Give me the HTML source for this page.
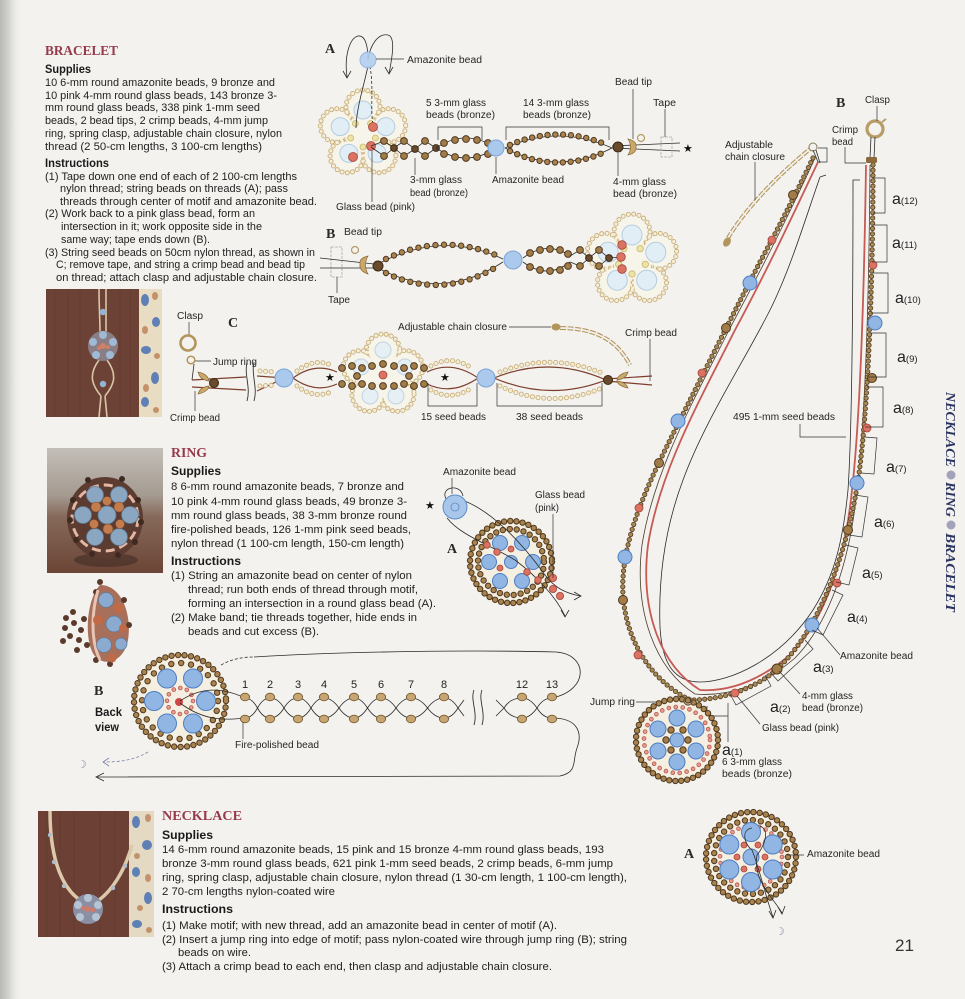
<!DOCTYPE html>
<html><head><meta charset="utf-8"><title>Necklace Ring Bracelet</title>
<style>
html,body{margin:0;padding:0;background:#f3f2ee;width:965px;height:999px;overflow:hidden}
svg{display:block}
.t{font-family:"Liberation Sans",Arial,sans-serif;fill:#1f1f1f}
.bd{font-size:10.7px}
.rb{font-size:11px}
.lb{font-family:"Liberation Sans",Arial,sans-serif;font-size:10px;fill:#262626}
.hd{font-family:"Liberation Serif",serif;font-weight:bold;fill:#963a4b;font-size:14px}
.sb{font-family:"Liberation Sans",Arial,sans-serif;font-weight:bold;font-size:12px;fill:#1a1a1a}
.sr{font-family:"Liberation Serif",serif;font-weight:bold;font-size:14px;fill:#2a2a2a}
.st{font-family:"DejaVu Sans",sans-serif;font-size:11px;fill:#111}
.ln{fill:none;stroke:#333;stroke-width:0.7}
.th{fill:none;stroke:#2b2b2b;stroke-width:0.8}
.bo{fill:none;stroke:#4f3820;stroke-width:6.4;stroke-linecap:round}
.bi{fill:none;stroke:#a9844e;stroke-width:4.4;stroke-linecap:round}
.so{fill:none;stroke:#5a4126;stroke-width:5.2;stroke-linecap:round}
.si{fill:none;stroke:#a88a55;stroke-width:3.4;stroke-linecap:round}
.co{fill:none;stroke:#c9b07a;stroke-width:5;stroke-linecap:round}
.ci{fill:none;stroke:#f6eed8;stroke-width:3.2;stroke-linecap:round}
.po{fill:none;stroke:#b3584f;stroke-width:4.6;stroke-linecap:round}
.pi{fill:none;stroke:#ea9c90;stroke-width:3;stroke-linecap:round}
.bl{fill:#92b6e4;stroke:#4d7dc0;stroke-width:1}
.pb{fill:#e2eef6;stroke:#b4cde2;stroke-width:1}
.pk{fill:#dc7262;stroke:#9f463b;stroke-width:0.8}
.bz{fill:#a27c47;stroke:#4f3820;stroke-width:1}
.dk{fill:#6a4a2c;stroke:#3a2814;stroke-width:1}
.fp{fill:#c7a674;stroke:#7a5a30;stroke-width:0.9}
.yl{fill:#ece3a4;stroke:#c6b76c;stroke-width:0.8}
.ch1{fill:none;stroke:#b3955c;stroke-width:4;stroke-dasharray:6 1.5}
.ch2{fill:none;stroke:#f3f2ee;stroke-width:1.8;stroke-dasharray:6 1.5}
.rw{fill:none;stroke:#7d3f2c;stroke-width:1.2}
</style></head><body>
<svg width="965" height="999" viewBox="0 0 965 999" xmlns="http://www.w3.org/2000/svg">
<defs>
<linearGradient id="gut" x1="0" x2="1" y1="0" y2="0"><stop offset="0" stop-color="#b8b8b5"/><stop offset="0.45" stop-color="#d6d6d2"/><stop offset="1" stop-color="#f3f2ee" stop-opacity="0"/></linearGradient>
<linearGradient id="rph" x1="0" y1="0" x2="0" y2="1"><stop offset="0" stop-color="#c3bfb8"/><stop offset="0.38" stop-color="#a49a90"/><stop offset="0.55" stop-color="#86695a"/><stop offset="1" stop-color="#6b4536"/></linearGradient>
</defs>
<rect width="965" height="999" fill="#f3f2ee"/>
<rect x="0" y="0" width="22" height="999" fill="url(#gut)"/>

<!-- ================= BRACELET TEXT ================= -->
<text class="hd" x="45" y="55" textLength="73" lengthAdjust="spacingAndGlyphs">BRACELET</text>
<text class="sb" x="45" y="73" textLength="46" lengthAdjust="spacingAndGlyphs">Supplies</text>
<g class="t bd">
<text x="45" y="86" textLength="230" lengthAdjust="spacingAndGlyphs">10 6-mm round amazonite beads, 9 bronze and</text>
<text x="45" y="99" textLength="232" lengthAdjust="spacingAndGlyphs">10 pink 4-mm round glass beads, 143 bronze 3-</text>
<text x="45" y="111" textLength="215" lengthAdjust="spacingAndGlyphs">mm round glass beads, 338 pink 1-mm seed</text>
<text x="45" y="124" textLength="223" lengthAdjust="spacingAndGlyphs">beads, 2 bead tips, 2 crimp beads, 4-mm jump</text>
<text x="45" y="137" textLength="237" lengthAdjust="spacingAndGlyphs">ring, spring clasp, adjustable chain closure, nylon</text>
<text x="45" y="150" textLength="217" lengthAdjust="spacingAndGlyphs">thread (2 50-cm lengths, 3 100-cm lengths)</text>
<text x="45" y="180" textLength="252" lengthAdjust="spacingAndGlyphs">(1) Tape down one end of each of 2 100-cm lengths</text>
<text x="60" y="192" textLength="228" lengthAdjust="spacingAndGlyphs">nylon thread; string beads on threads (A); pass</text>
<text x="60" y="205" textLength="257" lengthAdjust="spacingAndGlyphs">threads through center of motif and amazonite bead.</text>
<text x="45" y="217" textLength="210" lengthAdjust="spacingAndGlyphs">(2) Work back to a pink glass bead, form an</text>
<text x="61" y="230" textLength="201" lengthAdjust="spacingAndGlyphs">intersection in it; work opposite side in the</text>
<text x="61" y="243" textLength="149" lengthAdjust="spacingAndGlyphs">same way; tape ends down (B).</text>
<text x="45" y="256" textLength="270" lengthAdjust="spacingAndGlyphs">(3) String seed beads on 50cm nylon thread, as shown in</text>
<text x="56" y="268" textLength="249" lengthAdjust="spacingAndGlyphs">C; remove tape, and string a crimp bead and bead tip</text>
<text x="56" y="281" textLength="261" lengthAdjust="spacingAndGlyphs">on thread; attach clasp and adjustable chain closure.</text>
</g>
<text class="sb" x="45" y="167" textLength="64" lengthAdjust="spacingAndGlyphs">Instructions</text>

<!-- ================= RING TEXT ================= -->
<text class="hd" x="171" y="457" textLength="36" lengthAdjust="spacingAndGlyphs">RING</text>
<text class="sb" x="171" y="475" textLength="50" lengthAdjust="spacingAndGlyphs">Supplies</text>
<g class="t rb">
<text x="171" y="490" textLength="233" lengthAdjust="spacingAndGlyphs">8 6-mm round amazonite beads, 7 bronze and</text>
<text x="171" y="505" textLength="236" lengthAdjust="spacingAndGlyphs">10 pink 4-mm round glass beads, 49 bronze 3-</text>
<text x="171" y="519" textLength="236" lengthAdjust="spacingAndGlyphs">mm round glass beads, 38 3-mm bronze round</text>
<text x="171" y="533" textLength="240" lengthAdjust="spacingAndGlyphs">fire-polished beads, 126 1-mm pink seed beads,</text>
<text x="171" y="547" textLength="233" lengthAdjust="spacingAndGlyphs">nylon thread (1 100-cm length, 150-cm length)</text>
<text x="171" y="579" textLength="241" lengthAdjust="spacingAndGlyphs">(1) String an amazonite bead on center of nylon</text>
<text x="188" y="593" textLength="230" lengthAdjust="spacingAndGlyphs">thread; run both ends of thread through motif,</text>
<text x="188" y="607" textLength="248" lengthAdjust="spacingAndGlyphs">forming an intersection in a round glass bead (A).</text>
<text x="171" y="621" textLength="246" lengthAdjust="spacingAndGlyphs">(2) Make band; tie threads together, hide ends in</text>
<text x="188" y="635" textLength="131" lengthAdjust="spacingAndGlyphs">beads and cut excess (B).</text>
</g>
<text class="sb" x="171" y="565" textLength="70" lengthAdjust="spacingAndGlyphs">Instructions</text>

<!-- ================= NECKLACE TEXT ================= -->
<text class="hd" x="162" y="820" textLength="80" lengthAdjust="spacingAndGlyphs">NECKLACE</text>
<text class="sb" x="162" y="839" textLength="51" lengthAdjust="spacingAndGlyphs">Supplies</text>
<g class="t rb">
<text x="162" y="853" textLength="442" lengthAdjust="spacingAndGlyphs">14 6-mm round amazonite beads, 15 pink and 15 bronze 4-mm round glass beads, 193</text>
<text x="162" y="867" textLength="451" lengthAdjust="spacingAndGlyphs">bronze 3-mm round glass beads, 621 pink 1-mm seed beads, 2 crimp beads, 6-mm jump</text>
<text x="162" y="881" textLength="465" lengthAdjust="spacingAndGlyphs">ring, spring clasp, adjustable chain closure, nylon thread (1 30-cm length, 1 100-cm length),</text>
<text x="162" y="895" textLength="173" lengthAdjust="spacingAndGlyphs">2 70-cm lengths nylon-coated wire</text>
<text x="162" y="929" textLength="395" lengthAdjust="spacingAndGlyphs">(1) Make motif; with new thread, add an amazonite bead in center of motif (A).</text>
<text x="162" y="943" textLength="465" lengthAdjust="spacingAndGlyphs">(2) Insert a jump ring into edge of motif; pass nylon-coated wire through jump ring (B); string</text>
<text x="178" y="956" textLength="73" lengthAdjust="spacingAndGlyphs">beads on wire.</text>
<text x="162" y="970" textLength="390" lengthAdjust="spacingAndGlyphs">(3) Attach a crimp bead to each end, then clasp and adjustable chain closure.</text>
</g>
<text class="sb" x="162" y="913" textLength="71" lengthAdjust="spacingAndGlyphs">Instructions</text>

<!-- ================= PHOTOS ================= -->
<!-- bracelet photo -->
<rect x="46" y="289" width="93" height="128" fill="#6d4236"/>
<g stroke="#5e372d" stroke-width="1" opacity="0.5"><path d="M55,289V417M68,289V417M80,289V417M120,289V417M130,289V417"/></g>
<rect x="139" y="289" width="23" height="128" fill="#e8dcc3"/>
<g fill="#5f80b5"><ellipse cx="145" cy="300" rx="4" ry="6"/><ellipse cx="156" cy="322" rx="4" ry="5"/><ellipse cx="146" cy="350" rx="5" ry="4"/><ellipse cx="155" cy="378" rx="4" ry="6"/><ellipse cx="145" cy="402" rx="4" ry="5"/></g>
<g fill="#c3926a"><ellipse cx="155" cy="296" rx="3" ry="4"/><ellipse cx="145" cy="330" rx="3" ry="4"/><ellipse cx="157" cy="356" rx="3" ry="3"/><ellipse cx="146" cy="388" rx="3" ry="4"/><ellipse cx="156" cy="410" rx="3" ry="3"/></g>
<path d="M99,289 C99,305 100,320 100,332 M106,289 C106,305 106,320 106,332 M99,360 C88,375 92,385 101,396 M107,360 C118,375 114,385 105,396 M101,396 L99,417 M105,396 L107,417" fill="none" stroke="#d8c6a6" stroke-width="1.6"/>
<circle cx="103" cy="312" r="3.2" fill="#93b4d4"/>
<circle cx="103" cy="384" r="3.2" fill="#93b4d4"/>
<circle cx="103" cy="346" r="15" fill="#8b7d84"/>
<g fill="#9fbad6"><circle cx="103" cy="335" r="4"/><circle cx="113" cy="342" r="4"/><circle cx="110" cy="355" r="4"/><circle cx="96" cy="355" r="4"/><circle cx="93" cy="342" r="4"/></g>
<g fill="#d08068"><circle cx="103" cy="346" r="3"/><circle cx="108" cy="347" r="2"/><circle cx="99" cy="348" r="2"/></g>

<!-- ring photo -->
<rect x="47" y="448" width="116" height="125" fill="url(#rph)"/>
<ellipse cx="106" cy="560" rx="32" ry="7" fill="#3e2a22" opacity=".55"/>
<ellipse cx="105" cy="518" rx="38" ry="41" fill="#5c3b30"/>
<circle cx="105" cy="518" r="33" fill="none" stroke="#e4b6a4" stroke-width="3" stroke-dasharray="9 5"/>
<g fill="#8aa6c0" stroke="#5d7a96" stroke-width="0.8"><circle cx="107" cy="515" r="9"/><circle cx="130" cy="515" r="8.5"/><circle cx="119" cy="495" r="8.5"/><circle cx="95" cy="495" r="8.5"/><circle cx="83" cy="515" r="8.5"/><circle cx="95" cy="537" r="8.5"/><circle cx="119" cy="537" r="8.5"/></g>
<g fill="#c27c4e" stroke="#8a4e2e" stroke-width="0.6"><circle cx="119" cy="507" r="5"/><circle cx="96" cy="507" r="5"/><circle cx="108" cy="529" r="5"/><circle cx="120" cy="524" r="4.5"/><circle cx="94" cy="524" r="4.5"/><circle cx="107" cy="501" r="4.5"/></g>
<g fill="#3e2a20"><circle cx="73" cy="500" r="3"/><circle cx="70" cy="520" r="3"/><circle cx="76" cy="540" r="3"/><circle cx="138" cy="500" r="3"/><circle cx="141" cy="522" r="3"/><circle cx="135" cy="542" r="3"/><circle cx="88" cy="480" r="3"/><circle cx="122" cy="479" r="3"/><circle cx="92" cy="554" r="3"/><circle cx="118" cy="555" r="3"/></g>

<!-- small ring -->
<g>
<path d="M100,585 C122,585 132,615 128,640 C124,662 104,668 94,655 C84,640 86,600 100,585Z" fill="#a8705a"/>
<g fill="#5a3a2a"><circle cx="66" cy="618" r="3"/><circle cx="73" cy="612" r="3"/><circle cx="65" cy="628" r="3"/><circle cx="74" cy="623" r="3"/><circle cx="70" cy="636" r="3"/><circle cx="79" cy="640" r="3"/><circle cx="63" cy="641" r="3"/><circle cx="81" cy="630" r="3"/><circle cx="84" cy="619" r="3"/><circle cx="77" cy="650" r="3"/><circle cx="87" cy="645" r="3"/><circle cx="100" cy="582" r="3"/><circle cx="96" cy="592" r="3"/><circle cx="124" cy="600" r="3"/><circle cx="129" cy="625" r="3"/><circle cx="96" cy="660" r="3"/><circle cx="110" cy="664" r="3"/></g>
<path d="M98,590 C92,610 90,640 100,660" fill="none" stroke="#e8c4b4" stroke-width="3"/>
<g fill="#8aaad0" stroke="#5d7a96" stroke-width="0.7"><circle cx="106" cy="600" r="7.5"/><circle cx="114" cy="624" r="8"/><circle cx="104" cy="645" r="7.5"/><circle cx="121" cy="644" r="6"/></g>
<g fill="#c06a48"><circle cx="119" cy="608" r="5"/><circle cx="98" cy="620" r="5"/><circle cx="112" cy="658" r="4.5"/><circle cx="123" cy="628" r="4"/></g>
</g>

<!-- necklace photo -->
<rect x="38" y="811" width="91" height="126" fill="#6c4034"/>
<g stroke="#5e362b" stroke-width="1" opacity="0.5"><path d="M47,811V937M60,811V937M74,811V937M100,811V937M115,811V937"/></g>
<rect x="129" y="811" width="25" height="126" fill="#e4d9c3"/>
<g fill="#5f80b5"><ellipse cx="136" cy="822" rx="4" ry="6"/><ellipse cx="147" cy="845" rx="5" ry="5"/><ellipse cx="136" cy="872" rx="4" ry="5"/><ellipse cx="148" cy="898" rx="4" ry="6"/><ellipse cx="137" cy="924" rx="5" ry="4"/></g>
<g fill="#c3926a"><ellipse cx="148" cy="818" rx="3" ry="4"/><ellipse cx="137" cy="856" rx="3" ry="3"/><ellipse cx="148" cy="878" rx="3" ry="4"/><ellipse cx="140" cy="908" rx="3" ry="3"/><ellipse cx="149" cy="930" rx="3" ry="3"/></g>
<path d="M50,811 C50,850 58,885 80,900 M132,845 C125,870 112,892 96,902" fill="none" stroke="#dcc8ab" stroke-width="3.5"/>
<g fill="#aebdcc"><circle cx="50" cy="835" r="2.2"/><circle cx="54" cy="862" r="2.2"/><circle cx="64" cy="886" r="2.2"/><circle cx="125" cy="866" r="2.2"/><circle cx="113" cy="888" r="2.2"/></g>
<circle cx="88" cy="909" r="15" fill="#8b8fa3"/>
<g fill="#b5c4d4"><circle cx="88" cy="898" r="4"/><circle cx="98" cy="905" r="4"/><circle cx="96" cy="917" r="4"/><circle cx="80" cy="917" r="4"/><circle cx="78" cy="905" r="4"/></g>
<g fill="#d07a6a"><circle cx="88" cy="909" r="3"/><circle cx="83" cy="908" r="2.2"/><circle cx="93" cy="910" r="2.2"/></g>

<!-- ================= BRACELET DIAGRAM A ================= -->
<text class="sr" x="325" y="53">A</text>
<path class="th" d="M347,77 C344,55 350,38 358,36 C366,35 368,48 368,60 M368,60 C370,45 378,33 388,35 C396,37 392,58 389,74"/>
<path class="th" d="M343,71 L347,78 L351,71 M385,67 L389,74 L393,67"/>
<!-- motif A -->
<g class="co" stroke-dasharray="0 5.3"><circle cx="363" cy="107" r="17"/><circle cx="388.7" cy="125.7" r="17"/><circle cx="378.9" cy="155.8" r="17"/><circle cx="347.1" cy="155.8" r="17"/><circle cx="337.3" cy="125.7" r="17"/></g>
<g class="ci" stroke-dasharray="0 5.3"><circle cx="363" cy="107" r="17"/><circle cx="388.7" cy="125.7" r="17"/><circle cx="378.9" cy="155.8" r="17"/><circle cx="347.1" cy="155.8" r="17"/><circle cx="337.3" cy="125.7" r="17"/></g>
<g fill="#f7f4ea"><circle cx="363" cy="107" r="14"/><circle cx="388.7" cy="125.7" r="14"/><circle cx="378.9" cy="155.8" r="14"/><circle cx="347.1" cy="155.8" r="14"/><circle cx="337.3" cy="125.7" r="14"/><circle cx="363" cy="134" r="18"/></g>
<g class="pb"><circle cx="363" cy="110" r="9"/><circle cx="385.8" cy="126.6" r="9"/><circle cx="377.1" cy="153.4" r="9"/><circle cx="348.9" cy="153.4" r="9"/><circle cx="340.2" cy="126.6" r="9"/></g>
<g class="yl"><circle cx="370.6" cy="123.5" r="3"/><circle cx="375.4" cy="138" r="3"/><circle cx="363" cy="147" r="3"/><circle cx="350.6" cy="138" r="3"/><circle cx="355.4" cy="123.5" r="3"/></g>
<path class="th" d="M368,66 C364,85 356,110 356,128"/>
<path class="th" stroke-dasharray="3 2" d="M370,66 C374,90 370,110 373,124"/>
<g class="pk"><circle cx="373" cy="127" r="4.5"/><circle cx="371" cy="146" r="4.5"/><circle cx="353" cy="157" r="4.5"/></g>
<circle cx="368" cy="60" r="8" fill="#b2cff0" stroke="#8fb3e0" stroke-width="1" opacity="0.9"/>
<!-- chain A -->
<path class="th" d="M371,146 L384,141 L394,148 L404,141 L415,149 L425,141 L436,148 M371,147 L384,156 L394,148 L404,156 L415,149 L425,156 L436,148"/>
<g class="bz"><circle cx="384" cy="141" r="3.4"/><circle cx="404" cy="141" r="3.4"/><circle cx="425" cy="141" r="3.4"/><circle cx="384" cy="156" r="3.4"/><circle cx="404" cy="156" r="3.4"/><circle cx="425" cy="156" r="3.4"/></g>
<g class="dk"><circle cx="394" cy="148" r="3.4"/><circle cx="415" cy="149" r="3.4"/><circle cx="436" cy="148" r="3.4"/></g>
<path class="th" d="M436,148 Q466,128 496,148 M436,148 Q466,168 496,148"/>
<g class="bz"><circle cx="444" cy="143" r="3.4"/><circle cx="455" cy="140" r="3.4"/><circle cx="466" cy="139" r="3.4"/><circle cx="477" cy="140" r="3.4"/><circle cx="488" cy="143" r="3.4"/><circle cx="444" cy="154" r="3.4"/><circle cx="455" cy="157" r="3.4"/><circle cx="466" cy="158" r="3.4"/><circle cx="477" cy="157" r="3.4"/><circle cx="488" cy="154" r="3.4"/></g>
<path class="th" d="M505,148 Q558,124 612,148 M505,148 Q558,176 612,148"/>
<path class="bo" stroke-dasharray="0 7.8" d="M510,145 Q558,124 607,145"/>
<path class="bi" stroke-dasharray="0 7.8" d="M510,145 Q558,124 607,145"/>
<path class="bo" stroke-dasharray="0 7.8" d="M510,151 Q558,174 607,151"/>
<path class="bi" stroke-dasharray="0 7.8" d="M510,151 Q558,174 607,151"/>
<circle cx="496" cy="148" r="8" fill="#aac9ec" stroke="#7aa4d6" stroke-width="1"/>
<path class="th" d="M612,146 L680,143 M612,148 L680,151"/>
<circle class="dk" cx="618" cy="147" r="5"/>
<path d="M628,139 Q637,141 636,147 Q637,153 628,155 Q633,147 628,139Z" fill="#c9a86a" stroke="#8a6a3a" stroke-width="0.7"/>
<circle cx="641" cy="138" r="3.5" fill="none" stroke="#b59a66" stroke-width="1.2"/>
<rect x="661" y="137" width="11" height="20" fill="none" stroke="#aaa" stroke-width="0.8" stroke-dasharray="3 1"/>
<text class="st" x="683" y="152">★</text>
<!-- labels A -->
<path class="ln" d="M376,59 H404 M438,140 V127 H482 V140 M506,140 V127 H609 V140 M633,89 V139 M665,109 V137 M415,158 V175 M496,157 V174 M618,153 V176 M372,151 V202"/>
<text class="lb" x="407" y="63" textLength="75" lengthAdjust="spacingAndGlyphs">Amazonite bead</text>
<text class="lb" x="426" y="106" textLength="60" lengthAdjust="spacingAndGlyphs">5 3-mm glass</text>
<text class="lb" x="426" y="118" textLength="69" lengthAdjust="spacingAndGlyphs">beads (bronze)</text>
<text class="lb" x="523" y="106" textLength="66" lengthAdjust="spacingAndGlyphs">14 3-mm glass</text>
<text class="lb" x="523" y="118" textLength="68" lengthAdjust="spacingAndGlyphs">beads (bronze)</text>
<text class="lb" x="615" y="85" textLength="37" lengthAdjust="spacingAndGlyphs">Bead tip</text>
<text class="lb" x="653" y="106" textLength="23" lengthAdjust="spacingAndGlyphs">Tape</text>
<text class="lb" x="410" y="183" textLength="52" lengthAdjust="spacingAndGlyphs">3-mm glass</text>
<text class="lb" x="410" y="196" textLength="58" lengthAdjust="spacingAndGlyphs">bead (bronze)</text>
<text class="lb" x="492" y="183" textLength="72" lengthAdjust="spacingAndGlyphs">Amazonite bead</text>
<text class="lb" x="613" y="185" textLength="53" lengthAdjust="spacingAndGlyphs">4-mm glass</text>
<text class="lb" x="613" y="197" textLength="64" lengthAdjust="spacingAndGlyphs">bead (bronze)</text>
<text class="lb" x="336" y="210" textLength="79" lengthAdjust="spacingAndGlyphs">Glass bead (pink)</text>

<!-- ================= BRACELET DIAGRAM B ================= -->
<text class="sr" x="326" y="238">B</text>
<text class="lb" x="344" y="235" textLength="38" lengthAdjust="spacingAndGlyphs">Bead tip</text>
<text class="lb" x="328" y="303" textLength="22" lengthAdjust="spacingAndGlyphs">Tape</text>
<rect x="331" y="247" width="11" height="30" fill="none" stroke="#aaa" stroke-width="0.8" stroke-dasharray="3 1"/>
<path class="ln" d="M337,277 V293"/>
<path class="th" d="M320,258 L374,264 M320,268 L374,268"/>
<path d="M368,256 Q359,258 360,264 Q359,271 368,274 Q363,265 368,256Z" fill="#c9a86a" stroke="#8a6a3a" stroke-width="0.7"/>
<circle cx="355" cy="250" r="3.5" fill="none" stroke="#b59a66" stroke-width="1.2"/>
<!-- motif B -->
<g class="co" stroke-dasharray="0 5.4"><circle cx="632" cy="232" r="18"/><circle cx="658.6" cy="251.3" r="18"/><circle cx="648.5" cy="282.7" r="18"/><circle cx="615.5" cy="282.7" r="18"/><circle cx="605.4" cy="251.3" r="18"/></g>
<g class="ci" stroke-dasharray="0 5.4"><circle cx="632" cy="232" r="18"/><circle cx="658.6" cy="251.3" r="18"/><circle cx="648.5" cy="282.7" r="18"/><circle cx="615.5" cy="282.7" r="18"/><circle cx="605.4" cy="251.3" r="18"/></g>
<g fill="#f7f4ea"><circle cx="632" cy="232" r="15"/><circle cx="658.6" cy="251.3" r="15"/><circle cx="648.5" cy="282.7" r="15"/><circle cx="615.5" cy="282.7" r="15"/><circle cx="605.4" cy="251.3" r="15"/><circle cx="632" cy="260" r="19"/></g>
<g class="pb"><circle cx="632" cy="235" r="10"/><circle cx="655.8" cy="252.3" r="10"/><circle cx="646.7" cy="280.2" r="10"/><circle cx="617.3" cy="280.2" r="10"/><circle cx="608.2" cy="252.3" r="10"/></g>
<g class="yl"><circle cx="640.2" cy="248.7" r="3.2"/><circle cx="645.3" cy="264.3" r="3.2"/><circle cx="632" cy="274" r="3.2"/><circle cx="618.7" cy="264.3" r="3.2"/><circle cx="623.8" cy="248.7" r="3.2"/></g>
<!-- chain B -->
<path class="th" d="M378,264 Q442,230 503,259 M378,268 Q442,302 503,262"/>
<path class="bo" stroke-dasharray="0 8.6" d="M386,259 Q442,232 498,256"/>
<path class="bi" stroke-dasharray="0 8.6" d="M386,259 Q442,232 498,256"/>
<path class="bo" stroke-dasharray="0 8.6" d="M386,273 Q442,300 498,266"/>
<path class="bi" stroke-dasharray="0 8.6" d="M386,273 Q442,300 498,266"/>
<circle class="dk" cx="378" cy="266" r="5"/>
<path class="th" d="M523,258 Q547,240 570,256 M523,262 Q547,280 570,262"/>
<g class="bz"><circle cx="530" cy="253" r="3.4"/><circle cx="540" cy="250" r="3.4"/><circle cx="550" cy="249" r="3.4"/><circle cx="560" cy="250" r="3.4"/><circle cx="568" cy="254" r="3.4"/><circle cx="530" cy="267" r="3.4"/><circle cx="540" cy="270" r="3.4"/><circle cx="550" cy="271" r="3.4"/><circle cx="560" cy="270" r="3.4"/><circle cx="568" cy="266" r="3.4"/></g>
<circle cx="513" cy="260" r="9" fill="#aac9ec" stroke="#7aa4d6" stroke-width="1"/>
<path class="th" d="M570,256 L580,250 L589,258 L599,250 L609,258 L621,257 M570,262 L580,266 L589,258 L599,266 L609,258"/>
<g class="bz"><circle cx="580" cy="250" r="3.4"/><circle cx="599" cy="250" r="3.4"/><circle cx="580" cy="266" r="3.4"/><circle cx="599" cy="266" r="3.4"/></g>
<g class="dk"><circle cx="589" cy="258" r="3.4"/><circle cx="609" cy="258" r="3.4"/></g>
<g class="pk"><circle cx="622" cy="245" r="4.3"/><circle cx="621" cy="257" r="4.3"/><circle cx="622" cy="269" r="4.3"/></g>

<!-- ================= BRACELET DIAGRAM C ================= -->
<text class="lb" x="177" y="319" textLength="26" lengthAdjust="spacingAndGlyphs">Clasp</text>
<text class="sr" x="228" y="327">C</text>
<path class="ln" d="M189,322 V335 M195,361 H211 M195,391 V411"/>
<circle cx="188" cy="343" r="7.5" fill="none" stroke="#b3955c" stroke-width="2.6"/>
<circle cx="191" cy="360" r="3.8" fill="none" stroke="#b3955c" stroke-width="1.5"/>
<text class="lb" x="213" y="365" textLength="44" lengthAdjust="spacingAndGlyphs">Jump ring</text>
<text class="lb" x="170" y="421" textLength="50" lengthAdjust="spacingAndGlyphs">Crimp bead</text>
<path class="rw" d="M192,380 L246,377 M192,387 L246,390"/>
<path class="th" d="M192,380 L194,364"/>
<path d="M198,372 Q208,374 209,381 Q200,380 198,372Z M198,394 Q208,392 209,386 Q200,387 198,394Z" fill="#c9a86a" stroke="#8a6a3a" stroke-width="0.7"/>
<circle class="dk" cx="214" cy="383" r="4.5"/>
<path d="M247,362 C244,375 251,388 247,401 M254,362 C251,375 258,388 254,401" fill="none" stroke="#333" stroke-width="0.9"/>
<!-- motif C -->
<g class="co" stroke-dasharray="0 5.2"><circle cx="383" cy="351" r="17"/><circle cx="405.8" cy="367.6" r="17"/><circle cx="397.1" cy="394.4" r="17"/><circle cx="368.9" cy="394.4" r="17"/><circle cx="360.2" cy="367.6" r="17"/></g>
<g class="ci" stroke-dasharray="0 5.2"><circle cx="383" cy="351" r="17"/><circle cx="405.8" cy="367.6" r="17"/><circle cx="397.1" cy="394.4" r="17"/><circle cx="368.9" cy="394.4" r="17"/><circle cx="360.2" cy="367.6" r="17"/></g>
<g fill="#f7f4ea"><circle cx="383" cy="351" r="14"/><circle cx="405.8" cy="367.6" r="14"/><circle cx="397.1" cy="394.4" r="14"/><circle cx="368.9" cy="394.4" r="14"/><circle cx="360.2" cy="367.6" r="14"/><circle cx="383" cy="375" r="17"/></g>
<g class="pb" opacity="0.8"><circle cx="383" cy="350" r="8"/><circle cx="405" cy="367" r="8"/><circle cx="396" cy="396" r="8"/><circle cx="370" cy="396" r="8"/><circle cx="361" cy="367" r="8"/></g>
<!-- threads C -->
<path class="rw" d="M257,376 Q270,377 284,378 M257,391 Q270,385 284,378 M293,378 Q315,362 337,372 M293,378 Q315,394 337,384 M427,372 Q452,360 478,378 M427,384 Q452,396 478,378 M494,378 Q550,355 606,380 M494,378 Q550,402 606,380 M606,379 L652,376 M606,381 L652,385"/>
<path class="co" stroke-dasharray="0 5.6" d="M260,371 L276,372 M260,386 L276,385 M297,371 Q315,357 333,366 M297,386 Q315,400 333,391 M431,366 Q452,354 473,369 M431,390 Q452,402 473,387"/>
<path class="ci" stroke-dasharray="0 5.6" d="M260,371 L276,372 M260,386 L276,385 M297,371 Q315,357 333,366 M297,386 Q315,400 333,391 M431,366 Q452,354 473,369 M431,390 Q452,402 473,387"/>
<path class="co" stroke-dasharray="0 5.7" d="M500,372 Q550,352 602,373 M500,386 Q550,410 602,388"/>
<path class="ci" stroke-dasharray="0 5.7" d="M500,372 Q550,352 602,373 M500,386 Q550,410 602,388"/>
<circle cx="284" cy="378" r="9" fill="#aac9ec" stroke="#7aa4d6" stroke-width="1"/>
<circle cx="486" cy="378" r="9" fill="#aac9ec" stroke="#7aa4d6" stroke-width="1"/>
<g class="bz"><circle cx="342" cy="368" r="3.4"/><circle cx="352" cy="366" r="3.4"/><circle cx="362" cy="368" r="3.4"/><circle cx="372" cy="366" r="3.4"/><circle cx="394" cy="366" r="3.4"/><circle cx="404" cy="368" r="3.4"/><circle cx="414" cy="366" r="3.4"/><circle cx="424" cy="368" r="3.4"/><circle cx="342" cy="384" r="3.4"/><circle cx="352" cy="386" r="3.4"/><circle cx="362" cy="384" r="3.4"/><circle cx="372" cy="386" r="3.4"/><circle cx="394" cy="386" r="3.4"/><circle cx="404" cy="384" r="3.4"/><circle cx="414" cy="386" r="3.4"/><circle cx="424" cy="384" r="3.4"/><circle cx="357" cy="376" r="3.4"/><circle cx="409" cy="376" r="3.4"/><circle cx="383" cy="386" r="3.4"/><circle cx="383" cy="364" r="3.4"/></g>
<circle class="pk" cx="383" cy="375" r="4"/>
<text class="st" x="325" y="381">★</text>
<text class="st" x="440" y="381">★</text>
<circle class="dk" cx="608" cy="380" r="4.5"/>
<path d="M628,372 Q618,374 617,380 Q626,379 628,372Z M628,388 Q618,386 617,381 Q626,382 628,388Z" fill="#c9a86a" stroke="#8a6a3a" stroke-width="0.7"/>
<path class="ch1" d="M560,328 C592,328 616,338 630,365"/>
<path class="ch2" d="M560,328 C592,328 616,338 630,365"/>
<ellipse cx="556" cy="327" rx="4.5" ry="3.5" fill="#b3955c"/>
<path class="ln" d="M509,327 H551 M650,339 V381 M428,383 V406 H477 V383 M497,383 V406 H602 V383"/>
<text class="lb" x="398" y="330" textLength="109" lengthAdjust="spacingAndGlyphs">Adjustable chain closure</text>
<text class="lb" x="625" y="336" textLength="52" lengthAdjust="spacingAndGlyphs">Crimp bead</text>
<text class="lb" x="421" y="420" textLength="65" lengthAdjust="spacingAndGlyphs">15 seed beads</text>
<text class="lb" x="516" y="420" textLength="67" lengthAdjust="spacingAndGlyphs">38 seed beads</text>

<!-- ================= RING DIAGRAM A ================= -->
<text class="lb" x="443" y="475" textLength="73" lengthAdjust="spacingAndGlyphs">Amazonite bead</text>
<text class="lb" x="535" y="498" textLength="50" lengthAdjust="spacingAndGlyphs">Glass bead</text>
<text class="lb" x="535" y="511" textLength="24" lengthAdjust="spacingAndGlyphs">(pink)</text>
<text class="st" x="425" y="509">★</text>
<text class="sr" x="447" y="553">A</text>
<path class="ln" d="M452,478 V494"/>
<circle cx="511" cy="562" r="44" fill="#f5efe2"/>
<circle class="bo" cx="511" cy="562" r="41" stroke-dasharray="0 6.2"/>
<circle class="bi" cx="511" cy="562" r="41" stroke-dasharray="0 6.2"/>
<circle class="bo" cx="511" cy="562" r="33" stroke-dasharray="0 7"/>
<circle class="bi" cx="511" cy="562" r="33" stroke-dasharray="0 7"/>
<g class="bl"><circle cx="533" cy="562" r="7.5"/><circle cx="522" cy="581" r="7.5"/><circle cx="500" cy="581" r="7.5"/><circle cx="489" cy="562" r="7.5"/><circle cx="500" cy="543" r="7.5"/><circle cx="522" cy="543" r="7.5"/><circle cx="511" cy="562" r="6.5"/></g>
<path class="th" d="M462,500 C490,510 520,540 545,575 C555,588 565,593 580,596 M447,518 C460,535 490,545 515,560 C535,575 555,595 565,616 M447,500 C438,488 460,482 463,496"/>
<path class="th" d="M574,592 L581,596 L574,600 M561,610 L565,617 L569,610"/>
<g class="pk"><circle cx="487" cy="545" r="3.3"/><circle cx="497" cy="552" r="3.3"/><circle cx="527" cy="572" r="3.3"/><circle cx="538" cy="580" r="3.3"/><circle cx="553" cy="578" r="3.6"/><circle cx="553" cy="589" r="3.6"/><circle cx="560" cy="596" r="3.6"/><circle cx="511" cy="549" r="3"/><circle cx="500" cy="568" r="3"/></g>
<circle cx="455" cy="507" r="12" fill="#a7c6ea" stroke="#5f8cc4" stroke-width="1"/>
<circle cx="455" cy="507" r="4" fill="none" stroke="#5f8cc4" stroke-width="0.8"/>
<path class="ln" d="M553,514 V578"/>

<!-- ================= RING DIAGRAM B ================= -->
<text class="sr" x="94" y="695">B</text>
<text class="sb" x="95" y="716" textLength="27" lengthAdjust="spacingAndGlyphs">Back</text>
<text class="sb" x="95" y="731" textLength="24" lengthAdjust="spacingAndGlyphs">view</text>
<circle cx="180" cy="701" r="48" fill="#f5efe2"/>
<circle class="bo" cx="180" cy="701" r="46" stroke-dasharray="0 6.5"/>
<circle class="bi" cx="180" cy="701" r="46" stroke-dasharray="0 6.5"/>
<circle class="bo" cx="180" cy="701" r="38" stroke-dasharray="0 10"/>
<circle class="bi" cx="180" cy="701" r="38" stroke-dasharray="0 10"/>
<g class="bl"><circle cx="193" cy="678.5" r="9.5"/><circle cx="206" cy="701" r="9.5"/><circle cx="193" cy="723.5" r="9.5"/><circle cx="167" cy="723.5" r="9.5"/><circle cx="154" cy="701" r="9.5"/><circle cx="167" cy="678.5" r="9.5"/></g>
<circle class="po" cx="180" cy="701" r="13" stroke-dasharray="0 6.8"/>
<circle class="pi" cx="180" cy="701" r="13" stroke-dasharray="0 6.8"/>
<circle cx="179" cy="702" r="4" fill="#cf4646"/>
<path class="th" d="M221,665 C232,659 242,657 254,657" stroke-dasharray="3 2"/>
<path class="th" d="M254,657 C350,651 480,650 556,652 C588,654 590,690 552,698"/>
<path class="th" d="M180,701 C205,684 228,690 245,698 M180,703 C205,722 228,720 245,718"/>
<path class="th" d="M245,698 Q252,698 257.5,708 Q263,698 270,698 Q278,698 284,708 Q290,698 298,698 Q305,698 311,708 Q317,698 324,698 Q332,698 339,708 Q346,698 354,698 Q361,698 367.5,708 Q374,698 381,698 Q389,698 396,708 Q403,698 411,698 Q420,698 427.5,708 Q435,698 444,698 Q452,698 458,708 L464,716"/>
<path class="th" d="M245,718 Q252,718 257.5,708 Q263,718 270,718 Q278,718 284,708 Q290,718 298,718 Q305,718 311,708 Q317,718 324,718 Q332,718 339,708 Q346,718 354,718 Q361,718 367.5,708 Q374,718 381,718 Q389,718 396,708 Q403,718 411,718 Q420,718 427.5,708 Q435,718 444,718 Q452,718 458,708 L464,700"/>
<path d="M474,690 C470,700 478,712 474,725 M482,690 C478,700 486,712 482,725" fill="none" stroke="#333" stroke-width="0.9"/>
<path class="th" d="M496,700 L504,708 Q510,698 522,698 Q530,698 537,708 Q543,698 552,698 M496,716 L504,708 Q510,718 522,718 Q530,718 537,708 Q543,718 552,718 C580,718 582,735 577,748 C572,762 578,772 560,776 L97,777"/>
<path class="th" d="M104,773 L96,777 L104,781"/>
<g class="fp"><ellipse cx="245" cy="697" rx="4.6" ry="3.8"/><ellipse cx="270" cy="697" rx="4.6" ry="3.8"/><ellipse cx="298" cy="697" rx="4.6" ry="3.8"/><ellipse cx="324" cy="697" rx="4.6" ry="3.8"/><ellipse cx="354" cy="697" rx="4.6" ry="3.8"/><ellipse cx="381" cy="697" rx="4.6" ry="3.8"/><ellipse cx="411" cy="697" rx="4.6" ry="3.8"/><ellipse cx="444" cy="697" rx="4.6" ry="3.8"/><ellipse cx="522" cy="697" rx="4.6" ry="3.8"/><ellipse cx="552" cy="697" rx="4.6" ry="3.8"/>
<ellipse cx="245" cy="719" rx="4.6" ry="3.8"/><ellipse cx="270" cy="719" rx="4.6" ry="3.8"/><ellipse cx="298" cy="719" rx="4.6" ry="3.8"/><ellipse cx="324" cy="719" rx="4.6" ry="3.8"/><ellipse cx="354" cy="719" rx="4.6" ry="3.8"/><ellipse cx="381" cy="719" rx="4.6" ry="3.8"/><ellipse cx="411" cy="719" rx="4.6" ry="3.8"/><ellipse cx="444" cy="719" rx="4.6" ry="3.8"/><ellipse cx="522" cy="719" rx="4.6" ry="3.8"/><ellipse cx="552" cy="719" rx="4.6" ry="3.8"/></g>
<g class="t" font-size="11" text-anchor="middle"><text x="245" y="688">1</text><text x="270" y="688">2</text><text x="298" y="688">3</text><text x="324" y="688">4</text><text x="354" y="688">5</text><text x="381" y="688">6</text><text x="411" y="688">7</text><text x="444" y="688">8</text><text x="522" y="688">12</text><text x="552" y="688">13</text></g>
<path class="ln" d="M243,722 V739"/>
<text class="lb" x="235" y="748" textLength="84" lengthAdjust="spacingAndGlyphs">Fire-polished bead</text>
<path d="M148,752 C135,760 120,762 104,762" fill="none" stroke="#7a80a8" stroke-width="0.8" stroke-dasharray="3 2"/>
<path d="M109,758 L103,762 L109,766" fill="none" stroke="#7a80a8" stroke-width="0.8"/>
<text x="77" y="768" font-family="DejaVu Sans" font-size="11" fill="#8a8fb0">☽</text>

<!-- ================= NECKLACE DIAGRAM B ================= -->
<text class="sr" x="836" y="107">B</text>
<text class="lb" x="865" y="103" textLength="25" lengthAdjust="spacingAndGlyphs">Clasp</text>
<text class="lb" x="832" y="133" textLength="26" lengthAdjust="spacingAndGlyphs">Crimp</text>
<text class="lb" x="832" y="145" textLength="21" lengthAdjust="spacingAndGlyphs">bead</text>
<text class="lb" x="725" y="148" textLength="48" lengthAdjust="spacingAndGlyphs">Adjustable</text>
<text class="lb" x="725" y="160" textLength="60" lengthAdjust="spacingAndGlyphs">chain closure</text>
<text class="lb" x="733" y="420" textLength="102" lengthAdjust="spacingAndGlyphs">495 1-mm seed beads</text>
<!-- outline bracket -->
<path class="th" d="M820,177 C805,220 790,270 770,310 C745,360 705,420 683,480 C668,520 658,570 660,627 C662,665 675,682 700,682 C730,682 780,660 813,610 C835,575 843,540 848,490 C852,430 853,300 853,180 L860,180"/>
<path class="th" d="M820,177 L826,175"/>
<!-- inner wires -->
<path d="M818,162 C800,200 770,265 735,330 C700,400 660,470 648,545 C640,610 660,665 700,690 C730,692 760,680 790,655 C825,620 845,560 852,490 C860,420 864,300 866,165" fill="none" stroke="#c65a55" stroke-width="1.8"/>
<path d="M814,160 C796,200 764,265 729,330 C694,400 654,470 642,545 C634,610 654,668 695,694 C730,697 765,684 795,658 C830,622 850,560 857,490 C865,420 869,300 870,165" fill="none" stroke="#4a3a2c" stroke-width="0.8"/>
<!-- outer strands -->
<path class="so" stroke-dasharray="0 5.3" d="M813,158 C800,185 780,225 760,262 C735,310 700,380 670,440 C645,490 620,545 623,595 C626,640 650,680 690,700"/>
<path class="si" stroke-dasharray="0 5.3" d="M813,158 C800,185 780,225 760,262 C735,310 700,380 670,440 C645,490 620,545 623,595 C626,640 650,680 690,700"/>
<path class="so" stroke-dasharray="0 5.3" d="M873,165 C873,280 868,420 857,487 C845,560 815,640 770,675 C745,693 715,700 690,700"/>
<path class="si" stroke-dasharray="0 5.3" d="M873,165 C873,280 868,420 857,487 C845,560 815,640 770,675 C745,693 715,700 690,700"/>
<!-- accent beads -->
<g class="pk"><circle cx="873" cy="265" r="4"/><circle cx="867" cy="428" r="4"/><circle cx="837" cy="583" r="4"/><circle cx="735" cy="693" r="4"/><circle cx="772" cy="240" r="4"/><circle cx="702" cy="373" r="4"/><circle cx="639" cy="508" r="4"/><circle cx="638" cy="655" r="4"/></g>
<g class="bl"><circle cx="875" cy="323" r="7"/><circle cx="857" cy="483" r="7"/><circle cx="812" cy="625" r="7"/><circle cx="750" cy="283" r="7"/><circle cx="678" cy="421" r="7"/><circle cx="625" cy="557" r="7"/></g>
<g class="bz"><circle cx="872" cy="378" r="4.5"/><circle cx="848" cy="530" r="4.5"/><circle cx="777" cy="669" r="5"/><circle cx="793" cy="195" r="4.5"/><circle cx="726" cy="328" r="4.5"/><circle cx="659" cy="463" r="4.5"/><circle cx="623" cy="600" r="4.5"/></g>
<!-- chain closure -->
<path class="ch1" d="M728,238 C742,214 772,180 810,149"/>
<path class="ch2" d="M728,238 C742,214 772,180 810,149"/>
<ellipse cx="727" cy="242" rx="3.5" ry="5" fill="#b3955c" transform="rotate(30 727 242)"/>
<circle cx="813" cy="147" r="4" fill="none" stroke="#8a7a60" stroke-width="1"/>
<path class="ln" d="M818,148 H827 V162 H818"/>
<path class="th" d="M813,150 L818,162 M816,150 L820,163"/>
<!-- clasp -->
<circle cx="875" cy="129" r="8" fill="none" stroke="#b89c68" stroke-width="3.2"/>
<path d="M882,122 L886,119" stroke="#b89c68" stroke-width="2"/>
<path class="th" d="M871,137 L870,158 M875,137 L874,158"/>
<rect x="866" y="157" width="11" height="6" rx="1.5" fill="#8a6a3a"/>
<!-- brackets a(n) -->
<path class="ln" d="M873,178 H885 V213 H873 M873,225 H887 V262 H872 M872,273 H888 V313 H871 M870,333 H886 V377 H868 M867,387 H883 V427 H865 M864,437 L877,438 L874,474 L861,473 M855,495 L868,497 L862,537 L849,535 M846,545 L858,548 L849,585 L836,582 M832,590 L843,595 L823,635 L812,630 M805,640 L813,649 L778,681 L770,672 M765,675 L771,686 L736,705 L730,694 M707,706 V716 H728 V703 M728,716 V742"/>
<g font-family="Liberation Sans, Arial, sans-serif" fill="#222">
<text x="892" y="204"><tspan font-size="16">a</tspan><tspan font-size="9.5">(12)</tspan></text>
<text x="892" y="248"><tspan font-size="16">a</tspan><tspan font-size="9.5">(11)</tspan></text>
<text x="895" y="303"><tspan font-size="16">a</tspan><tspan font-size="9.5">(10)</tspan></text>
<text x="897" y="362"><tspan font-size="16">a</tspan><tspan font-size="9.5">(9)</tspan></text>
<text x="893" y="413"><tspan font-size="16">a</tspan><tspan font-size="9.5">(8)</tspan></text>
<text x="886" y="472"><tspan font-size="16">a</tspan><tspan font-size="9.5">(7)</tspan></text>
<text x="874" y="527"><tspan font-size="16">a</tspan><tspan font-size="9.5">(6)</tspan></text>
<text x="862" y="578"><tspan font-size="16">a</tspan><tspan font-size="9.5">(5)</tspan></text>
<text x="847" y="622"><tspan font-size="16">a</tspan><tspan font-size="9.5">(4)</tspan></text>
<text x="813" y="672"><tspan font-size="16">a</tspan><tspan font-size="9.5">(3)</tspan></text>
<text x="770" y="712"><tspan font-size="16">a</tspan><tspan font-size="9.5">(2)</tspan></text>
<text x="722" y="755"><tspan font-size="16">a</tspan><tspan font-size="9.5">(1)</tspan></text>
</g>
<path class="ln" d="M877,106 V121 M845,147 V163 H866 M755,162 V200 M800,424 V437 H846 M817,628 L840,655 M779,671 L800,694 M737,696 L760,724 M636,702 H684"/>
<text class="lb" x="840" y="659" textLength="73" lengthAdjust="spacingAndGlyphs">Amazonite bead</text>
<text class="lb" x="802" y="699" textLength="51" lengthAdjust="spacingAndGlyphs">4-mm glass</text>
<text class="lb" x="802" y="711" textLength="61" lengthAdjust="spacingAndGlyphs">bead (bronze)</text>
<text class="lb" x="762" y="731" textLength="77" lengthAdjust="spacingAndGlyphs">Glass bead (pink)</text>
<text class="lb" x="722" y="765" textLength="60" lengthAdjust="spacingAndGlyphs">6 3-mm glass</text>
<text class="lb" x="722" y="777" textLength="70" lengthAdjust="spacingAndGlyphs">beads (bronze)</text>
<text class="lb" x="590" y="705" textLength="45" lengthAdjust="spacingAndGlyphs">Jump ring</text>
<!-- pendant -->
<circle cx="677" cy="740" r="42" fill="#f5efe2"/>
<circle class="bo" cx="677" cy="740" r="41" stroke-dasharray="0 6"/>
<circle class="bi" cx="677" cy="740" r="41" stroke-dasharray="0 6"/>
<circle class="po" cx="677" cy="740" r="33" stroke-dasharray="0 7"/>
<circle class="pi" cx="677" cy="740" r="33" stroke-dasharray="0 7"/>
<g class="bl"><circle cx="677" cy="718" r="8"/><circle cx="696" cy="729" r="8"/><circle cx="696" cy="751" r="8"/><circle cx="677" cy="762" r="8"/><circle cx="658" cy="751" r="8"/><circle cx="658" cy="729" r="8"/><circle cx="677" cy="740" r="7"/></g>
<g class="bz"><circle cx="688" cy="740" r="3.2"/><circle cx="683" cy="750" r="3.2"/><circle cx="671" cy="750" r="3.2"/><circle cx="666" cy="740" r="3.2"/><circle cx="671" cy="730" r="3.2"/><circle cx="683" cy="730" r="3.2"/></g>
<circle cx="688" cy="701" r="4" fill="none" stroke="#6a5a40" stroke-width="1.3"/>

<!-- ================= NECKLACE DIAGRAM A ================= -->
<text class="sr" x="684" y="858">A</text>
<circle cx="751" cy="857" r="47" fill="#f5efe2"/>
<circle class="bo" cx="751" cy="857" r="45" stroke-dasharray="0 6.3"/>
<circle class="bi" cx="751" cy="857" r="45" stroke-dasharray="0 6.3"/>
<circle class="bo" cx="751" cy="857" r="37" stroke-dasharray="0 8"/>
<circle class="bi" cx="751" cy="857" r="37" stroke-dasharray="0 8"/>
<circle class="po" cx="751" cy="857" r="31" stroke-dasharray="0 7"/>
<circle class="pi" cx="751" cy="857" r="31" stroke-dasharray="0 7"/>
<g class="bl"><circle cx="751" cy="832" r="9.5"/><circle cx="772.7" cy="844.5" r="9.5"/><circle cx="772.7" cy="869.5" r="9.5"/><circle cx="751" cy="882" r="9.5"/><circle cx="729.3" cy="869.5" r="9.5"/><circle cx="729.3" cy="844.5" r="9.5"/><circle cx="751" cy="857" r="8"/></g>
<g class="pk"><circle cx="765" cy="857" r="3"/><circle cx="758" cy="869" r="3"/><circle cx="744" cy="869" r="3"/><circle cx="737" cy="857" r="3"/><circle cx="744" cy="845" r="3"/><circle cx="758" cy="845" r="3"/></g>
<path class="th" d="M752,828 C740,830 745,845 752,850 C760,870 765,895 773,917 M760,826 C770,830 765,845 757,855 C752,880 775,900 782,913"/>
<path class="th" d="M769,911 L773,918 L776,910 M778,907 L782,914 L785,906"/>
<path class="ln" d="M787,855 H804"/>
<text class="lb" x="807" y="857" textLength="73" lengthAdjust="spacingAndGlyphs">Amazonite bead</text>
<text x="775" y="935" font-family="DejaVu Sans" font-size="11" fill="#8a8fb0">☽</text>

<!-- ================= RUNNING HEAD + PAGE ================= -->
<g font-family="Liberation Serif, serif" font-weight="bold" font-style="italic" font-size="14" fill="#2b3561">
<text transform="translate(946,392) rotate(90)" textLength="75" lengthAdjust="spacingAndGlyphs">NECKLACE</text>
<text transform="translate(946,482) rotate(90)" textLength="35" lengthAdjust="spacingAndGlyphs">RING</text>
<text transform="translate(946,533) rotate(90)" textLength="79" lengthAdjust="spacingAndGlyphs">BRACELET</text>
</g>
<circle cx="951" cy="475" r="4.5" fill="#a2a2b8"/>
<circle cx="951" cy="525" r="4.5" fill="#a2a2b8"/>
<text x="895" y="951" font-family="Liberation Sans, Arial, sans-serif" font-size="17" fill="#333" textLength="19" lengthAdjust="spacingAndGlyphs">21</text>
</svg>
</body></html>
